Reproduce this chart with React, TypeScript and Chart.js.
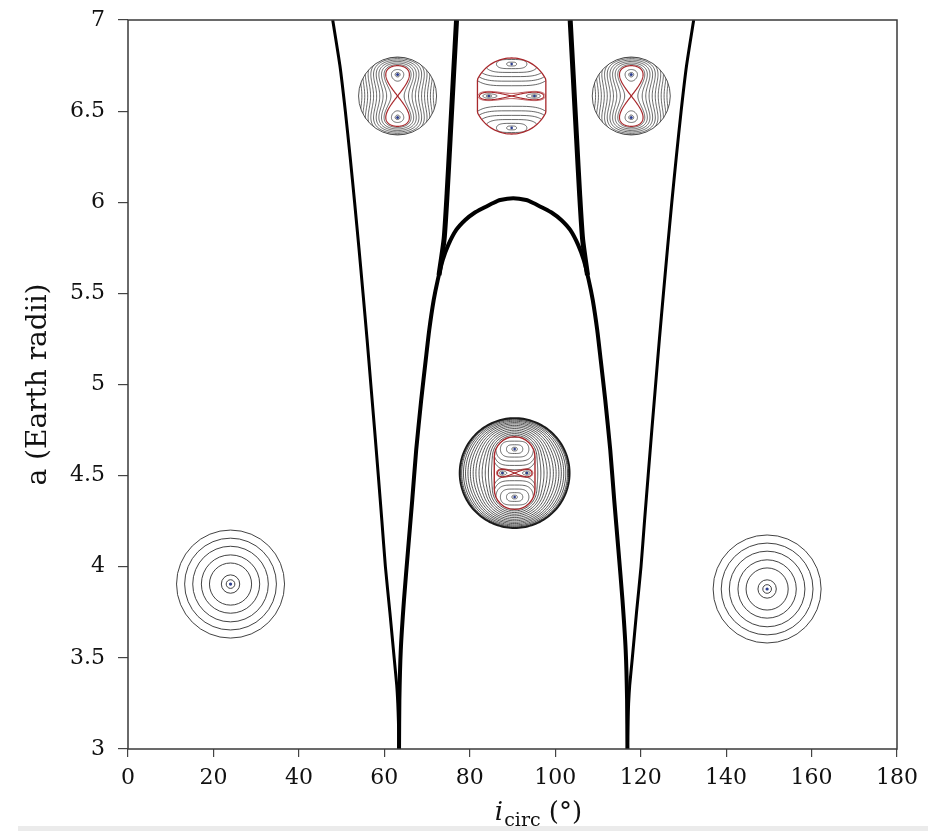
import React, { useEffect, useRef } from 'react';
import { Chart, registerables } from 'chart.js';

Chart.register(...registerables);

// ---- axis ticks ----
const xTickValues = [0, 20, 40, 60, 80, 100, 120, 140, 160, 180];
const yTickValues = [3, 3.5, 4, 4.5, 5, 5.5, 6, 6.5, 7];

// ---- boundary curves: inclination (deg) vs semi-major axis (Earth radii) ----
const outerLeftI = [47.92, 49.6, 50.87, 51.99, 53.04, 54.05, 55.01, 55.95, 56.84, 57.73, 58.59, 59.43, 60.25, 61.3, 62.3, 62.9, 63.15, 63.3, 63.38, 63.44];
const outerLeftA = [7.0, 6.75, 6.5, 6.25, 6.0, 5.75, 5.5, 5.25, 5.0, 4.75, 4.5, 4.25, 4.0, 3.75, 3.5, 3.35, 3.25, 3.15, 3.07, 3.0];
const outerRightI = [132.41, 130.74, 129.47, 128.35, 127.29, 126.29, 125.33, 124.39, 123.5, 122.61, 121.75, 120.9, 120.08, 119.03, 118.05, 117.44, 117.18, 117.04, 116.95, 116.9];
const outerRightA = [7.0, 6.75, 6.5, 6.25, 6.0, 5.75, 5.5, 5.25, 5.0, 4.75, 4.5, 4.25, 4.0, 3.75, 3.5, 3.35, 3.25, 3.15, 3.07, 3.0];

const archI = [
  63.44, 63.52, 63.85, 64.6, 65.55, 66.53, 67.46, 68.63, 69.69, 70.51, 71.56, 72.5, 73.67, 74.95, 76.83, 78.93, 81.04, 83.15, 85.49, 87.13,
  90.17,
  93.21, 94.85, 97.19, 99.3, 101.41, 103.51, 105.39, 106.67, 107.84, 108.78, 109.83, 110.65, 111.71, 112.88, 113.81, 114.79, 115.74, 116.49, 116.82, 116.9,
];
const archA = [
  3.0, 3.269, 3.543, 3.818, 4.092, 4.366, 4.641, 4.915, 5.134, 5.299, 5.464, 5.573, 5.683, 5.765, 5.848, 5.903, 5.941, 5.968, 5.996, 6.012,
  6.022,
  6.012, 5.996, 5.968, 5.941, 5.903, 5.848, 5.765, 5.683, 5.573, 5.464, 5.299, 5.134, 4.915, 4.641, 4.366, 4.092, 3.818, 3.543, 3.269, 3.0,
];

const innerLeftI = [72.8, 74.0, 74.7, 75.4, 76.2, 76.9];
const innerLeftA = [5.6, 5.8, 6.05, 6.35, 6.7, 7.0];
const innerRightI = [107.55, 106.4, 105.7, 105.0, 104.2, 103.5];
const innerRightA = [5.6, 5.8, 6.05, 6.35, 6.7, 7.0];

// ---- phase-portrait insets (centre in data coordinates) ----
const insetKind = ['rings', 'eight', 'barrel', 'eight', 'capsule', 'rings'];
const insetI = [24.0, 63.1, 89.8, 117.8, 90.5, 149.6];
const insetA = [3.905, 6.583, 6.583, 6.583, 4.514, 3.878];

// ---- styles ----
const FONT = "'DejaVu Serif', serif";
const insetRadiusPx = [54, 39, 38, 39, 55, 54];
const GRAY = 'rgba(45,45,45,0.9)';
const RED = '#a8282c';
const BLUE = '#2d3f90';

type Pt = [number, number];

function wellLoops(E: number, b2: number, k: number): Pt[][] {
  const N = 90;
  const sq = Math.sqrt(E);
  const intervals: [number, number][] = [];
  if (E > b2 * b2 + 1e-12) {
    const m = Math.sqrt(b2 + sq);
    intervals.push([-m, m]);
  } else {
    const s1 = Math.sqrt(Math.max(0, b2 - sq));
    const s2 = Math.sqrt(b2 + sq);
    intervals.push([s1, s2], [-s2, -s1]);
  }
  return intervals.map(([lo, hi]) => {
    const up: Pt[] = [];
    for (let j = 0; j <= N; j++) {
      const s = lo + ((hi - lo) * (1 - Math.cos((Math.PI * j) / N))) / 2;
      const d = s * s - b2;
      const t = Math.sqrt(Math.max(0, (E - d * d) / k));
      up.push([s, t]);
    }
    const down: Pt[] = up.slice().reverse().map(([s, t]) => [s, -t] as Pt);
    return up.concat(down);
  });
}

function strokePts(ctx: CanvasRenderingContext2D, pts: Pt[], close = true) {
  ctx.beginPath();
  pts.forEach((p, k) => (k ? ctx.lineTo(p[0], p[1]) : ctx.moveTo(p[0], p[1])));
  if (close) ctx.closePath();
  ctx.stroke();
}

function dot(ctx: CanvasRenderingContext2D, x: number, y: number, r = 1.5) {
  ctx.fillStyle = BLUE;
  ctx.beginPath();
  ctx.arc(x, y, r, 0, Math.PI * 2);
  ctx.fill();
}

function drawRings(ctx: CanvasRenderingContext2D, cx: number, cy: number, R: number) {
  ctx.strokeStyle = GRAY;
  ctx.lineWidth = 1;
  [1, 0.85, 0.7, 0.54, 0.39, 0.17, 0.08].forEach((f) => {
    ctx.beginPath();
    ctx.arc(cx, cy, f * R, 0, Math.PI * 2);
    ctx.stroke();
  });
  dot(ctx, cx, cy, 1.6);
}

function drawEight(ctx: CanvasRenderingContext2D, cx: number, cy: number, R: number) {
  const b2 = 0.3025;
  const map = (p: Pt): Pt => [cx + p[1] * R, cy - p[0] * R];
  ctx.save();
  ctx.beginPath();
  ctx.arc(cx, cy, R, 0, Math.PI * 2);
  ctx.clip();
  ctx.strokeStyle = GRAY;
  ctx.lineWidth = 0.8;
  [0.12, 0.17, 0.23, 0.3, 0.38, 0.47, 0.57, 0.68, 0.8, 0.93].forEach((E) =>
    wellLoops(E, b2, 1).forEach((l) => strokePts(ctx, l.map(map)))
  );
  [0.004, 0.025].forEach((E) => wellLoops(E, b2, 1).forEach((l) => strokePts(ctx, l.map(map))));
  ctx.strokeStyle = RED;
  ctx.lineWidth = 1.2;
  wellLoops(b2 * b2, b2, 1).forEach((l) => strokePts(ctx, l.map(map)));
  ctx.restore();
  ctx.strokeStyle = GRAY;
  ctx.lineWidth = 0.9;
  ctx.beginPath();
  ctx.arc(cx, cy, R, 0, Math.PI * 2);
  ctx.stroke();
  dot(ctx, cx, cy - 0.55 * R);
  dot(ctx, cx, cy + 0.55 * R);
}

function drawBarrelContent(ctx: CanvasRenderingContext2D, map: (u: number, v: number) => Pt, vc: number) {
  const fam: [number, number][] = [[0.13, 0.05], [0.4, 0.12], [0.7, 0.22], [0.92, 0.33], [1.05, 0.45], [1.12, 0.57]];
  ctx.strokeStyle = GRAY;
  ctx.lineWidth = 0.8;
  [1, -1].forEach((sg) => {
    fam.forEach(([w, h]) => {
      const pts: Pt[] = [];
      for (let j = 0; j <= 100; j++) {
        const th = (Math.PI * 2 * j) / 100;
        const c = Math.cos(th), s = Math.sin(th);
        const u = w * Math.sign(c) * Math.sqrt(Math.abs(c));
        const v = sg * (vc + h * s);
        pts.push(map(u, v));
      }
      strokePts(ctx, pts);
    });
  });
  const b2 = 0.36, k = 12.96;
  const m = (p: Pt): Pt => map(p[0], p[1]);
  [0.008, 0.045].forEach((E) => wellLoops(E, b2, k).forEach((l) => strokePts(ctx, l.map(m))));
  ctx.strokeStyle = RED;
  ctx.lineWidth = 1.1;
  wellLoops(b2 * b2, b2, k).forEach((l) => strokePts(ctx, l.map(m)));
  ctx.lineWidth = 0.8;
  wellLoops(0.19, b2, k).forEach((l) => strokePts(ctx, l.map(m)));
  [[0, vc], [0, -vc], [0.6, 0], [-0.6, 0]].forEach(([u, v]) => {
    const p = map(u, v);
    dot(ctx, p[0], p[1], 1.3);
  });
}

function barrelPath(ctx: CanvasRenderingContext2D, cx: number, cy: number, R: number) {
  ctx.beginPath();
  for (let j = 0; j <= 120; j++) {
    const th = (Math.PI * 2 * j) / 120;
    const x = Math.max(-0.9, Math.min(0.9, Math.cos(th))) * R;
    const y = Math.sin(th) * R;
    if (j) ctx.lineTo(cx + x, cy - y);
    else ctx.moveTo(cx + x, cy - y);
  }
  ctx.closePath();
}

function drawBarrel(ctx: CanvasRenderingContext2D, cx: number, cy: number, R: number) {
  ctx.save();
  barrelPath(ctx, cx, cy, R);
  ctx.clip();
  drawBarrelContent(ctx, (u, v) => [cx + u * R, cy - v * R], 0.84);
  ctx.restore();
  ctx.strokeStyle = RED;
  ctx.lineWidth = 1.3;
  barrelPath(ctx, cx, cy, R);
  ctx.stroke();
}

function capsuleRadius(theta: number, a: number, L: number) {
  const c = Math.abs(Math.cos(theta)), s = Math.abs(Math.sin(theta));
  if (c > 1e-9 && (a * s) / c <= L) return a / c;
  const dc = L * s;
  return dc + Math.sqrt(dc * dc - L * L + a * a);
}

function capsulePath(ctx: CanvasRenderingContext2D, cx: number, cy: number, aR: number, LR: number) {
  ctx.beginPath();
  ctx.arc(cx, cy - LR, aR, Math.PI, 0);
  ctx.lineTo(cx + aR, cy + LR);
  ctx.arc(cx, cy + LR, aR, 0, Math.PI);
  ctx.closePath();
}

function drawCapsule(ctx: CanvasRenderingContext2D, cx: number, cy: number, R: number) {
  const a = 0.37, L = 0.29;
  const ts = [0.08, 0.17, 0.26, 0.35, 0.44, 0.53, 0.61, 0.69, 0.76, 0.83, 0.89, 0.94, 0.97, 1.0];
  ts.forEach((t) => {
    ctx.strokeStyle = t > 0.96 ? '#1a1a1a' : GRAY;
    ctx.lineWidth = t > 0.99 ? 1.8 : 0.9;
    const pts: Pt[] = [];
    for (let j = 0; j <= 160; j++) {
      const th = (Math.PI * 2 * j) / 160;
      const r = ((1 - t) * capsuleRadius(th, a, L) + t) * R;
      pts.push([cx + r * Math.cos(th), cy - r * Math.sin(th)]);
    }
    strokePts(ctx, pts);
  });
  const aR = a * R, LR = L * R, H = (a + L) * R;
  ctx.save();
  capsulePath(ctx, cx, cy, aR, LR);
  ctx.clip();
  drawBarrelContent(ctx, (u, v) => [cx + u * aR, cy - v * H], 0.66);
  ctx.restore();
  ctx.strokeStyle = RED;
  ctx.lineWidth = 1.4;
  capsulePath(ctx, cx, cy, aR, LR);
  ctx.stroke();
}

const insetPlugin = {
  id: 'insets',
  afterDatasetsDraw(chart: any) {
    const ctx: CanvasRenderingContext2D = chart.ctx;
    const xs = chart.scales.x, ys = chart.scales.y;
    insetKind.forEach((kind, k) => {
      const cx = xs.getPixelForValue(insetI[k]);
      const cy = ys.getPixelForValue(insetA[k]);
      const R = insetRadiusPx[k];
      ctx.save();
      if (kind === 'rings') drawRings(ctx, cx, cy, R);
      else if (kind === 'eight') drawEight(ctx, cx, cy, R);
      else if (kind === 'barrel') drawBarrel(ctx, cx, cy, R);
      else drawCapsule(ctx, cx, cy, R);
      ctx.restore();
    });
  },
};

const framePlugin = {
  id: 'frame',
  afterDraw(chart: any) {
    const { ctx, chartArea: c } = chart;
    ctx.save();
    ctx.strokeStyle = '#3a3a3a';
    ctx.lineWidth = 1.5;
    ctx.strokeRect(c.left, c.top, c.right - c.left, c.bottom - c.top);
    ctx.restore();
  },
};

const xTitlePlugin = {
  id: 'xTitle',
  afterDraw(chart: any) {
    const { ctx, chartArea: c } = chart;
    ctx.save();
    ctx.fillStyle = '#111';
    ctx.textBaseline = 'alphabetic';
    const fMain = `italic 26px ${FONT}`;
    const fSub = `19px ${FONT}`;
    const fPar = `26px ${FONT}`;
    ctx.font = fMain;
    const w1 = ctx.measureText('i').width;
    ctx.font = fSub;
    const w2 = ctx.measureText('circ').width;
    ctx.font = fPar;
    const w3 = ctx.measureText(' (°)').width;
    const total = w1 + 1 + w2 + w3;
    let x = (c.left + c.right) / 2 + 26 - total / 2;
    const y = chart.height - 11;
    ctx.font = fMain;
    ctx.fillText('i', x, y);
    x += w1 + 1;
    ctx.font = fSub;
    ctx.fillText('circ', x, y + 6);
    x += w2;
    ctx.font = fPar;
    ctx.fillText(' (°)', x, y);
    ctx.restore();
  },
};

export default function App() {
  const ref = useRef<HTMLCanvasElement>(null);
  useEffect(() => {
    const canvas = ref.current;
    if (!canvas) return;
    const line = (xs: number[], ys: number[], w: number) => ({
      data: xs.map((x, k) => ({ x, y: ys[k] })),
      showLine: true,
      borderColor: '#000',
      backgroundColor: '#000',
      borderWidth: w,
      pointRadius: 0,
      pointHoverRadius: 0,
      tension: 0.2,
      fill: false,
    });
    const zeroPad = (s: any) => {
      s.paddingTop = 0;
      s.paddingBottom = 0;
      s.paddingLeft = 0;
      s.paddingRight = 0;
    };
    const tickFont = { family: FONT, size: 22 };
    const chart = new Chart(canvas, {
      type: 'scatter',
      data: {
        datasets: [
          line(outerLeftI, outerLeftA, 3),
          line(outerRightI, outerRightA, 3),
          line(archI, archA, 4),
          line(innerLeftI, innerLeftA, 5),
          line(innerRightI, innerRightA, 5),
        ] as any,
      },
      options: {
        animation: false,
        responsive: false,
        maintainAspectRatio: false,
        events: [],
        layout: { autoPadding: false, padding: { left: 0, right: 31, top: 20, bottom: 0 } },
        plugins: { legend: { display: false }, tooltip: { enabled: false }, title: { display: false } },
        scales: {
          x: {
            type: 'linear',
            min: 0,
            max: 180,
            afterBuildTicks: (s: any) => {
              s.ticks = xTickValues.map((value) => ({ value }));
            },
            afterFit: (s: any) => {
              s.height = 82;
              zeroPad(s);
            },
            ticks: { color: '#111', font: tickFont, padding: 8, maxRotation: 0, autoSkip: false, callback: (v: any) => String(v) },
            grid: { display: true, drawOnChartArea: false, drawTicks: true, tickLength: 8, color: '#444', lineWidth: 1.2 },
            border: { display: false },
          },
          y: {
            type: 'linear',
            min: 3,
            max: 7,
            afterBuildTicks: (s: any) => {
              s.ticks = yTickValues.map((value) => ({ value }));
            },
            afterFit: (s: any) => {
              s.width = 128;
              zeroPad(s);
            },
            ticks: { color: '#111', font: tickFont, padding: 13, autoSkip: false, callback: (v: any) => String(v) },
            grid: { display: true, drawOnChartArea: false, drawTicks: true, tickLength: 10, color: '#444', lineWidth: 1.2 },
            border: { display: false },
            title: {
              display: true,
              text: 'a (Earth radii)',
              color: '#111',
              font: { family: FONT, size: 28 },
              padding: { top: 22, bottom: 0 },
            },
          },
        },
      } as any,
      plugins: [insetPlugin, framePlugin, xTitlePlugin],
    });
    return () => chart.destroy();
  }, []);

  return (
    <div style={{ position: 'fixed', left: 0, top: 0, width: 928, height: 831, background: '#fff', overflow: 'hidden' }}>
      <canvas ref={ref} width={928} height={831} style={{ display: 'block', width: 928, height: 831 }} />
      <div style={{ position: 'absolute', left: 18, top: 826, width: 910, height: 5, background: '#ebebeb' }} />
    </div>
  );
}
